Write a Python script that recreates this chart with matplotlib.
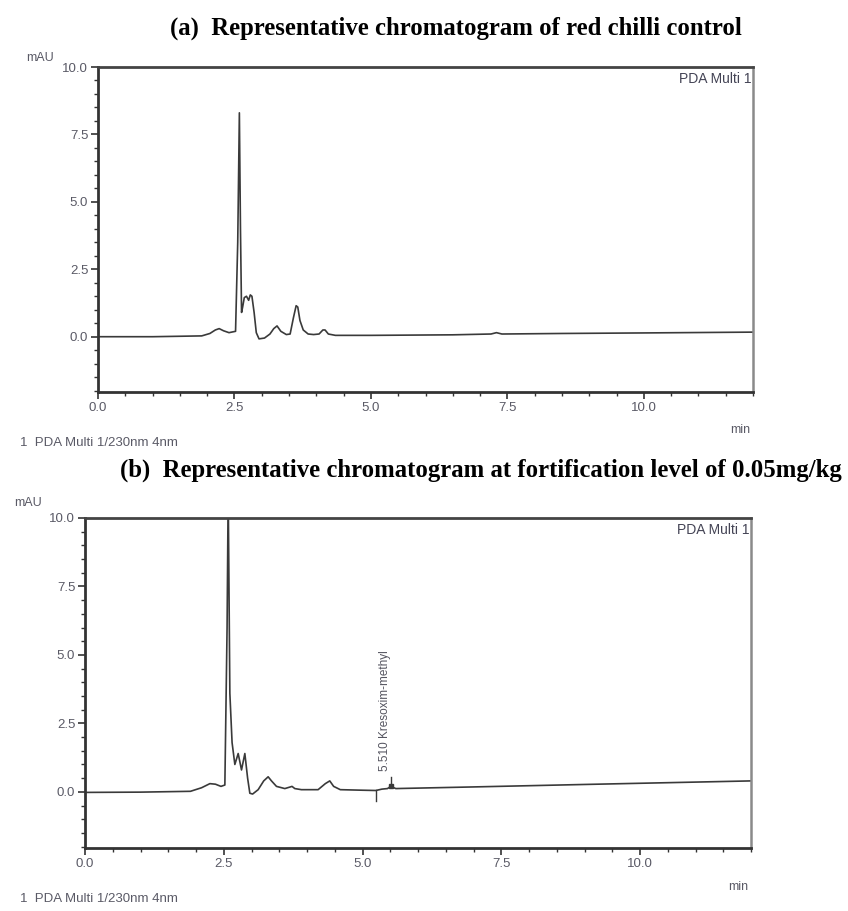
import matplotlib
matplotlib.use("Agg")
import matplotlib.pyplot as plt
from matplotlib.ticker import MultipleLocator

# ---------------- data ----------------
title_a = "(a)  Representative chromatogram of red chilli control"
title_b = "(b)  Representative chromatogram at fortification level of 0.05mg/kg"

time_a = [0.0, 1.0, 1.9, 2.05, 2.15, 2.22, 2.3, 2.4, 2.52, 2.56, 2.59, 2.61, 2.63, 2.65,
          2.68, 2.72, 2.76, 2.79, 2.82, 2.86, 2.9, 2.95, 3.05, 3.15, 3.22, 3.28, 3.35,
          3.45, 3.52, 3.58, 3.63, 3.66, 3.7, 3.76, 3.85, 3.95, 4.05, 4.12, 4.16, 4.22,
          4.35, 5.0, 6.5, 7.2, 7.3, 7.4, 8.5, 10.0, 12.0]
mau_a = [0.0, 0.0, 0.03, 0.12, 0.25, 0.3, 0.22, 0.15, 0.2, 3.5, 8.3, 4.0, 0.9, 1.1,
         1.45, 1.5, 1.35, 1.55, 1.5, 0.9, 0.15, -0.08, -0.05, 0.1, 0.3, 0.4, 0.2,
         0.08, 0.1, 0.7, 1.15, 1.1, 0.6, 0.25, 0.1, 0.08, 0.1, 0.25, 0.25, 0.1,
         0.05, 0.05, 0.07, 0.1, 0.15, 0.1, 0.12, 0.14, 0.17]

time_b = [0.0, 1.0, 1.9, 2.1, 2.25, 2.35, 2.45, 2.52, 2.56, 2.58, 2.61, 2.65, 2.70,
          2.76, 2.82, 2.88, 2.93, 2.97, 3.02, 3.12, 3.22, 3.3, 3.36, 3.45, 3.6, 3.7,
          3.73, 3.78, 3.9, 4.2, 4.33, 4.41, 4.48, 4.6, 5.0, 5.24, 5.35, 5.45, 5.51,
          5.6, 7.0, 9.0, 12.0]
mau_b = [-0.02, -0.01, 0.02, 0.15, 0.3, 0.28, 0.2, 0.25, 6.0, 11.0, 3.6, 1.8, 1.0,
         1.4, 0.8, 1.4, 0.5, -0.05, -0.08, 0.08, 0.4, 0.55, 0.4, 0.2, 0.12, 0.18,
         0.2, 0.12, 0.08, 0.08, 0.3, 0.4, 0.2, 0.08, 0.06, 0.05, 0.1, 0.12, 0.2,
         0.12, 0.18, 0.27, 0.4]

peak_label_b = "5.510 Kresoxim-methyl"
peak_time_b = 5.51
peak_start_b = 5.24

x_ticks = [0.0, 2.5, 5.0, 7.5, 10.0]
y_ticks = [0.0, 2.5, 5.0, 7.5, 10.0]
x_tick_labels = ["0.0", "2.5", "5.0", "7.5", "10.0"]
y_tick_labels = ["0.0", "2.5", "5.0", "7.5", "10.0"]
x_range = (0.0, 12.0)
y_range = (-2.05, 10.0)

detector_tag = "PDA Multi 1"
footer = "1  PDA Multi 1/230nm 4nm"
unit_y = "mAU"
unit_x = "min"

# ---------------- figure ----------------
W, H = 848, 911
fig = plt.figure(figsize=(W / 100, H / 100), dpi=100)
fig.patch.set_facecolor("white")

label_col = "#5a5a66"
trace_col = "#3a3a3a"
sans = ["Liberation Sans", "DejaVu Sans"]
serif = ["Liberation Serif", "DejaVu Serif"]


def fx(px):
    return px / W


def fy(py):
    return 1 - py / H


def panel(rect, t, y):
    ax = fig.add_axes(rect)
    ax.plot(t, y, color=trace_col, lw=1.2, solid_joinstyle="round")
    ax.set_xlim(*x_range)
    ax.set_ylim(*y_range)
    ax.set_xticks(x_ticks)
    ax.set_xticklabels(x_tick_labels)
    ax.set_yticks(y_ticks)
    ax.set_yticklabels(y_tick_labels)
    ax.xaxis.set_minor_locator(MultipleLocator(0.5))
    ax.yaxis.set_minor_locator(MultipleLocator(0.5))
    ax.tick_params(which="major", direction="out", length=5, width=1.2,
                   color="#333333", labelsize=9.5, labelcolor=label_col, pad=2)
    ax.tick_params(which="minor", direction="out", length=3, width=1.0,
                   color="#333333")
    for lab in ax.get_xticklabels() + ax.get_yticklabels():
        lab.set_family(sans)
    for side in ["left", "bottom"]:
        ax.spines[side].set_linewidth(2.0)
        ax.spines[side].set_color("#333333")
    ax.spines["top"].set_linewidth(2.0)
    ax.spines["top"].set_color("#444444")
    ax.spines["right"].set_linewidth(1.8)
    ax.spines["right"].set_color("#8a8a8a")
    ax.text(0.998, 0.985, detector_tag, transform=ax.transAxes, ha="right",
            va="top", fontsize=10, color="#444455", family=sans)
    return ax


# panel (a)
ax_a = panel([fx(98), fy(392), fx(753 - 98), fy(67) - fy(392)], time_a, mau_a)
fig.text(fx(456), fy(28), title_a, ha="center", va="center", fontsize=17.8,
         fontweight="bold", family=serif)
fig.text(fx(40), fy(58), unit_y, ha="center", va="center", fontsize=9,
         color=label_col, family=sans)
fig.text(fx(740), fy(430), unit_x, ha="center", va="center", fontsize=9,
         color=label_col, family=sans)
fig.text(fx(20), fy(443), footer, ha="left", va="center", fontsize=9.5,
         color=label_col, family=sans)

# panel (b)
ax_b = panel([fx(85), fy(848), fx(751 - 85), fy(518) - fy(848)], time_b, mau_b)
fig.text(fx(481), fy(470), title_b, ha="center", va="center", fontsize=17.8,
         fontweight="bold", family=serif)
fig.text(fx(28), fy(503), unit_y, ha="center", va="center", fontsize=9,
         color=label_col, family=sans)
fig.text(fx(738), fy(887), unit_x, ha="center", va="center", fontsize=9,
         color=label_col, family=sans)
fig.text(fx(20), fy(899), footer, ha="left", va="center", fontsize=9.5,
         color=label_col, family=sans)

# integration markers and peak label in (b)
ax_b.plot([peak_start_b, peak_start_b], [0.05, -0.35], color=trace_col, lw=1.0)
ax_b.plot([peak_time_b, peak_time_b], [0.2, 0.55], color=trace_col, lw=1.0)
ax_b.plot([peak_time_b], [0.2], marker="s", ms=2.5, color=trace_col)
ax_b.text(peak_time_b - 0.1, 0.75, peak_label_b, rotation=90, ha="center",
          va="bottom", fontsize=8.5, color="#555560", family=sans)

fig.savefig("out.png", dpi=100, facecolor="white")
